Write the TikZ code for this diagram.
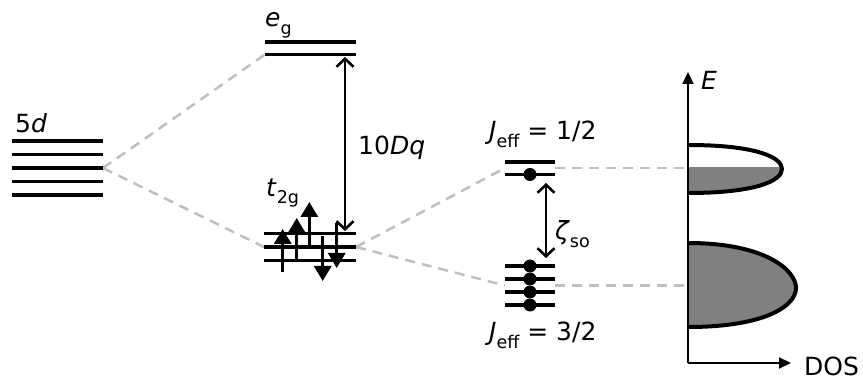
\documentclass[tikz,border=0pt]{standalone}
\usepackage{fontspec}
\setmainfont{DejaVu Sans}
\usetikzlibrary{arrows.meta}
\newcommand\sbs[1]{\raisebox{-0.3em}{\fontsize{17.5}{17.5}\selectfont #1}}
\begin{document}
\begin{tikzpicture}[x=1pt,y=-1pt,
  lvl/.style={line width=3.6pt},
  dsh/.style={draw=black!25, line width=2.5pt, dash pattern=on 10pt off 7pt},
  spin/.style={line width=3.2pt, -{Triangle[length=15pt,width=17pt]}},
  dbl/.style={line width=2.6pt, {Straight Barb[length=8pt,width=17pt]}-{Straight Barb[length=8pt,width=17pt]}},
  lbl/.style={inner sep=0pt, anchor=base west, font=\fontsize{25}{29}\selectfont},
  band/.style={line width=4pt},
  axis/.style={line width=2.2pt,-{Triangle[length=12pt,width=11pt]}}]
\useasboundingbox (0,0) rectangle (863,382);

% coordinates
\coordinate (d5) at (103,168);
\coordinate (egL) at (265,54.5);
\coordinate (egA) at (345,57);
\coordinate (tL) at (264,247);
\coordinate (tR) at (356,247);
\coordinate (tA) at (345,231);
\coordinate (jhL) at (505,168);
\coordinate (jhR) at (555,168);
\coordinate (jtL) at (505,285.5);
\coordinate (jtR) at (555,285.5);
\coordinate (fH) at (688,168);
\coordinate (fT) at (688,285.5);
\coordinate (zT) at (546,183);
\coordinate (zB) at (546,258);
\coordinate (O) at (688,363);
\coordinate (Etop) at (688,72);
\coordinate (Dend) at (791,363);

% dashed connectors
\draw[dsh] (d5) -- (egL);
\draw[dsh] (d5) -- (tL);
\draw[dsh] (tR) -- (jhL);
\draw[dsh] (tR) -- (jtL);
\draw[dsh] (jhR) -- (fH);
\draw[dsh] (jtR) -- (fT);

% 5d levels
\foreach \y in {141,154.5,168,181.5,195}{\draw[lvl] (12,\y) -- (103,\y);}
% eg levels
\draw[lvl] (265,42) -- (356,42);
\draw[lvl] (265,54.5) -- (356,54.5);
% t2g levels
\foreach \y in {233.5,247,260.5}{\draw[lvl] (264,\y) -- (356,\y);}
% spins
\draw[spin] (282.7,272) -- (282.7,229);
\draw[spin] (296.7,260) -- (296.7,218);
\draw[spin] (309.3,247) -- (309.3,202);
\draw[spin] (322.7,236) -- (322.7,281);
\draw[spin] (336.7,223) -- (336.7,268);
% 10Dq
\draw[dbl] (egA) -- (tA);

% Jeff levels
\draw[lvl] (505,162) -- (555,162);
\draw[lvl] (505,174.5) -- (555,174.5);
\fill (530,174.5) circle (6.5);
\foreach \y in {266,279,292,305}{\draw[lvl] (505,\y) -- (555,\y); \fill (530,\y) circle (6.5);}
\draw[dbl] (zT) -- (zB);

% DOS bands
\begin{scope}
\clip (680,168) rectangle (800,200);
\fill[black!50] (688,145) .. controls (755,145) and (782,157) .. (782,169) .. controls (782,181) and (755,193) .. (688,193) -- cycle;
\end{scope}
\draw[band] (688,145) .. controls (755,145) and (782,157) .. (782,169) .. controls (782,181) and (755,193) .. (688,193);
\draw[band, fill=black!50] (688,243) .. controls (765,243) and (796,270) .. (796,288) .. controls (796,306) and (765,327) .. (688,327);
% axes
\draw[axis] (O) -- (Etop);
\draw[axis] (O) -- (Dend);

% labels
\node[lbl] (l5d) at (15,133) {5\textit{d}};
\node[lbl] (leg) at (265,27) {\textit{e}\sbs{g}};
\node[lbl] (lt2g) at (266,196.5) {\textit{t}\sbs{2g}};
\node[lbl] (l10) at (358,155) {10\textit{Dq}};
\node[lbl] (lj1) at (489,140) {\textit{J}\sbs{eff} = 1/2};
\node[lbl] (lz) at (555,240) {\textit{ζ}\sbs{so}};
\node[lbl] (lj3) at (489,341) {\textit{J}\sbs{eff} = 3/2};
\node[lbl] (lE) at (701,90) {\textit{E}};
\node[lbl] (lD) at (804,375) {DOS};
\end{tikzpicture}
\end{document}
